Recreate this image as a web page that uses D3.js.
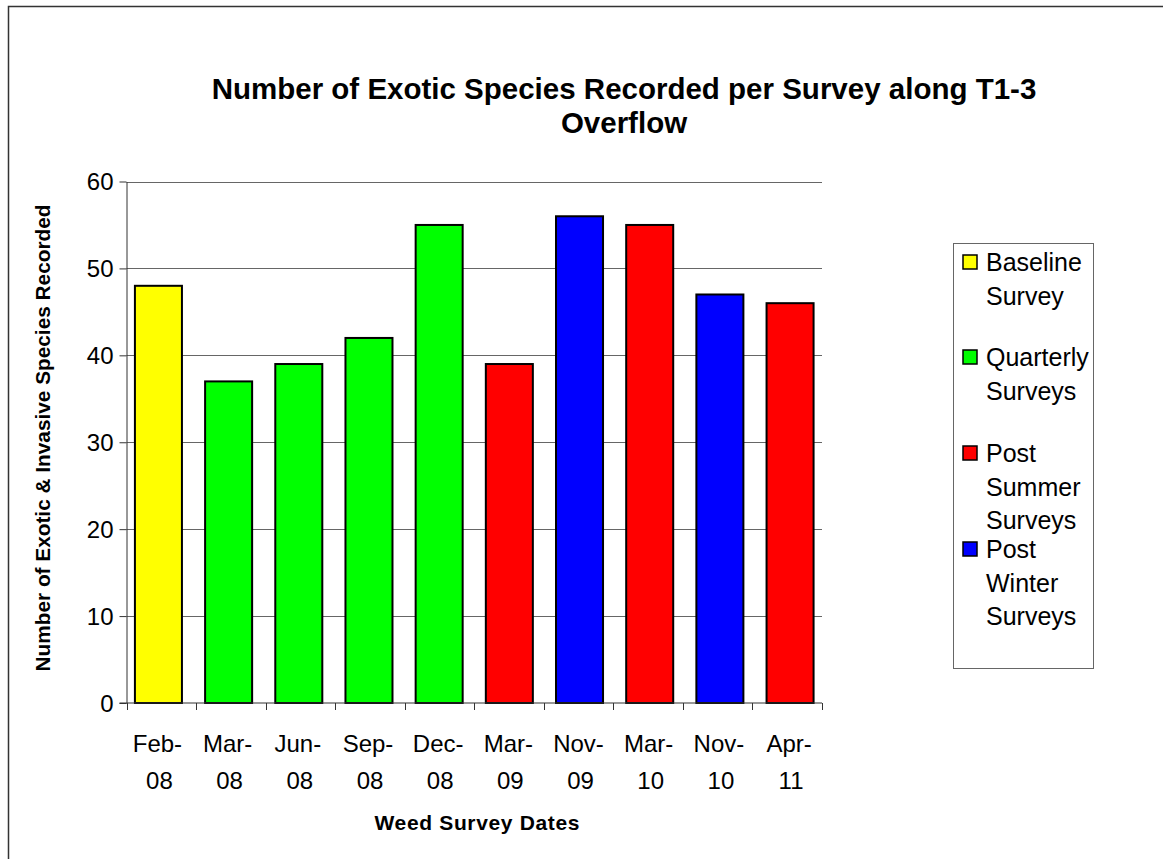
<!DOCTYPE html>
<html>
<head>
<meta charset="utf-8">
<script src="https://cdn.jsdelivr.net/npm/d3@7"></script>
<style>
  html, body { margin: 0; padding: 0; background: #fff; }
  svg { display: block; font-family: Arial, "Liberation Sans", sans-serif; }
</style>
</head>
<body>
<svg id="chart" width="1163" height="859"></svg>
<script>
// Survey dates (two-line labels) and species counts per survey
const surveyMonths = ["Feb-", "Mar-", "Jun-", "Sep-", "Dec-", "Mar-", "Nov-", "Mar-", "Nov-", "Apr-"];
const surveyYears  = ["08", "08", "08", "08", "08", "09", "09", "10", "10", "11"];
const speciesCounts = [48, 37, 39, 42, 55, 39, 56, 55, 47, 46];
const surveyTypes = ["Baseline", "Quarterly", "Quarterly", "Quarterly", "Quarterly",
                     "Summer", "Winter", "Summer", "Winter", "Summer"];

// Legend entries
const legendKeys = ["Baseline", "Quarterly", "Summer", "Winter"];
const legendLabels = [["Baseline", "Survey"], ["Quarterly", "Surveys"],
                      ["Post", "Summer", "Surveys"], ["Post", "Winter", "Surveys"]];
const legendColors = ["#ffff00", "#00ff00", "#ff0000", "#0000ff"];

const yTicks = [0, 10, 20, 30, 40, 50, 60];

const svg = d3.select("#chart");

// outer chart frame
svg.append("rect")
  .attr("x", 8.5).attr("y", 6.5)
  .attr("width", 1200).attr("height", 900)
  .attr("fill", "none").attr("stroke", "#333").attr("stroke-width", 1.5);

const plot = { left: 126.5, right: 822, top: 181.5, bottom: 703 };

const x = d3.scaleBand()
  .domain(d3.range(speciesCounts.length))
  .range([plot.left, plot.right])
  .paddingInner(0.33)
  .paddingOuter(0.12);

const y = d3.scaleLinear().domain([0, 60]).range([plot.bottom, plot.top]);

const color = d3.scaleOrdinal().domain(legendKeys).range(legendColors);

// horizontal gridlines
svg.append("g")
  .selectAll("line")
  .data(yTicks.filter(d => d > 0))
  .join("line")
  .attr("x1", plot.left).attr("x2", plot.right)
  .attr("y1", d => Math.round(y(d)) + 0.5).attr("y2", d => Math.round(y(d)) + 0.5)
  .attr("stroke", "#666").attr("stroke-width", 1);

// bars
svg.append("g")
  .selectAll("rect")
  .data(speciesCounts)
  .join("rect")
  .attr("x", (d, i) => x(i))
  .attr("y", d => y(d))
  .attr("width", x.bandwidth())
  .attr("height", d => y(0) - y(d))
  .attr("fill", (d, i) => color(surveyTypes[i]))
  .attr("stroke", "#000").attr("stroke-width", 2);

// y axis
const yAxis = svg.append("g")
  .attr("transform", `translate(${plot.left},0)`)
  .call(d3.axisLeft(y).tickValues(yTicks).tickSize(7).tickSizeOuter(0).tickPadding(6));
yAxis.select(".domain").attr("stroke", "#333");
yAxis.selectAll(".tick line").attr("stroke", "#333");
yAxis.selectAll(".tick text")
  .attr("font-size", 24).attr("font-family", "Arial, 'Liberation Sans', sans-serif")
  .attr("fill", "#000").attr("dy", "0.35em");

// x axis baseline and tick marks between categories
const step = (plot.right - plot.left) / speciesCounts.length;
svg.append("line")
  .attr("x1", plot.left - 7).attr("x2", plot.right)
  .attr("y1", plot.bottom).attr("y2", plot.bottom)
  .attr("stroke", "#333");
svg.append("g")
  .selectAll("line")
  .data(d3.range(speciesCounts.length + 1))
  .join("line")
  .attr("x1", i => Math.round(plot.left + i * step) + 0.5)
  .attr("x2", i => Math.round(plot.left + i * step) + 0.5)
  .attr("y1", plot.bottom).attr("y2", plot.bottom + 7)
  .attr("stroke", "#333");

// category labels
const xLabels = svg.append("g")
  .selectAll("text")
  .data(surveyMonths)
  .join("text")
  .attr("text-anchor", "middle")
  .attr("font-size", 24)
  .attr("fill", "#000");
xLabels.append("tspan")
  .attr("x", (d, i) => x(i) + x.bandwidth() / 2 - 1)
  .attr("y", 752)
  .text(d => d);
xLabels.append("tspan")
  .attr("x", (d, i) => x(i) + x.bandwidth() / 2 + 1)
  .attr("y", 789)
  .text((d, i) => surveyYears[i]);

// axis titles
svg.append("text")
  .attr("x", 477).attr("y", 830)
  .attr("text-anchor", "middle")
  .attr("font-size", 21).attr("font-weight", "bold")
  .attr("textLength", 205).attr("lengthAdjust", "spacing")
  .text("Weed Survey Dates");

svg.append("text")
  .attr("transform", "translate(50,438) rotate(-90)")
  .attr("text-anchor", "middle")
  .attr("font-size", 20.8).attr("font-weight", "bold")
  .text("Number of Exotic & Invasive Species Recorded");

// chart title
const title = svg.append("text")
  .attr("text-anchor", "middle")
  .attr("font-size", 29.5).attr("font-weight", "bold");
title.append("tspan").attr("x", 624).attr("y", 98.5)
  .text("Number of Exotic Species Recorded per Survey along T1-3");
title.append("tspan").attr("x", 624).attr("y", 132.5)
  .text("Overflow");

// legend
const legend = svg.append("g");
legend.append("rect")
  .attr("x", 953.5).attr("y", 243.5)
  .attr("width", 140).attr("height", 425)
  .attr("fill", "#fff").attr("stroke", "#666").attr("stroke-width", 1);

const legendRows = [271, 366, 462, 558];
legendKeys.forEach((k, i) => {
  const base = legendRows[i];
  legend.append("rect")
    .attr("x", 963).attr("y", base - 16)
    .attr("width", 14).attr("height", 14)
    .attr("fill", color(k)).attr("stroke", "#000").attr("stroke-width", 1.5);
  const t = legend.append("text").attr("font-size", 25).attr("fill", "#000");
  legendLabels[i].forEach((line, j) => {
    t.append("tspan").attr("x", 986).attr("y", base + j * 33.5).text(line);
  });
});
</script>
</body>
</html>
